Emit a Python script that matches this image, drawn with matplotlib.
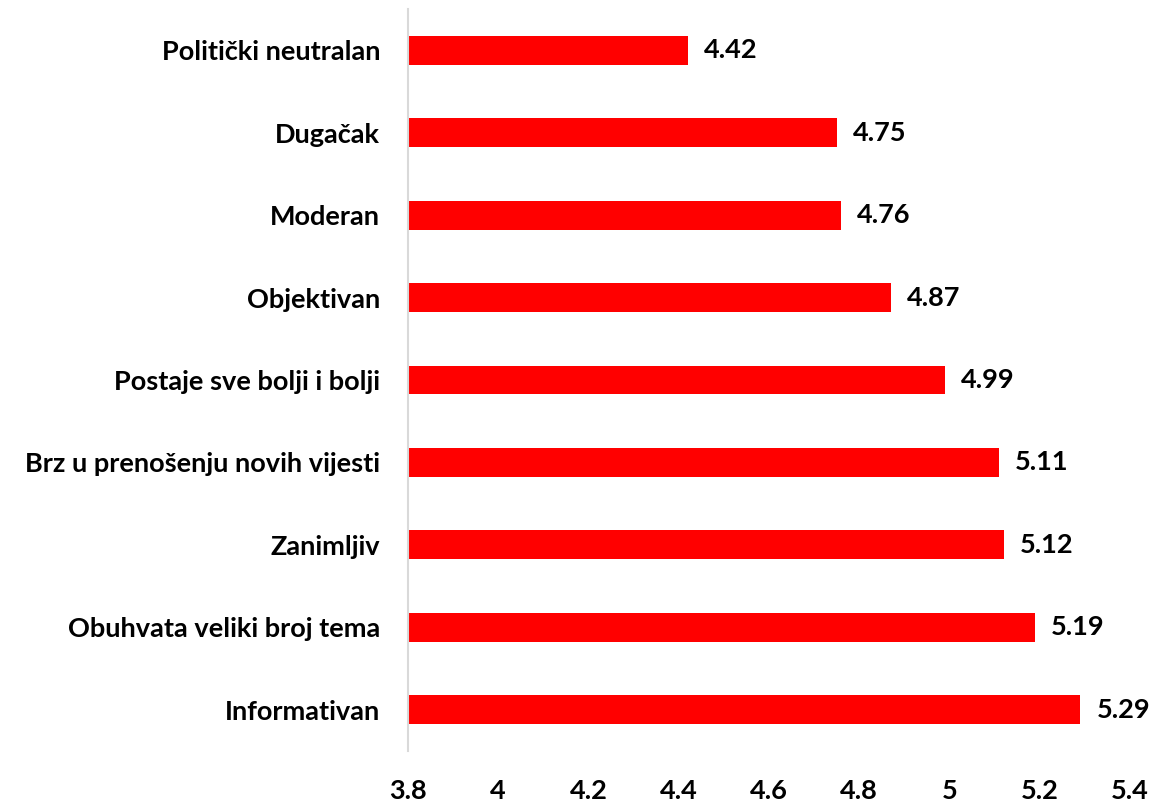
import matplotlib
matplotlib.use("Agg")
import matplotlib.pyplot as plt

categories = [
    "Politički neutralan",
    "Dugačak",
    "Moderan",
    "Objektivan",
    "Postaje sve bolji i bolji",
    "Brz u prenošenju novih vijesti",
    "Zanimljiv",
    "Obuhvata veliki broj tema",
    "Informativan",
]
values = [4.42, 4.75, 4.76, 4.87, 4.99, 5.11, 5.12, 5.19, 5.29]
x_ticks = [3.8, 4.0, 4.2, 4.4, 4.6, 4.8, 5.0, 5.2, 5.4]
x_tick_labels = ["3.8", "4", "4.2", "4.4", "4.6", "4.8", "5", "5.2", "5.4"]

plt.rcParams["font.family"] = ["Lato", "DejaVu Sans"]
plt.rcParams["font.weight"] = "bold"

fig = plt.figure(figsize=(11.76, 8.01), dpi=100)
ax = fig.add_axes([408 / 1176, 50 / 801, (1130 - 408) / 1176, 742 / 801])

y = list(range(len(categories)))
base = x_ticks[0]
ax.barh(y, [v - base for v in values], left=base, height=0.35, color="#FF0000")

# value labels just right of each bar
for yi, v in zip(y, values):
    ax.annotate(f"{v:.2f}", xy=(v, yi), xytext=(16, 0), textcoords="offset pixels",
                va="center", ha="left", fontsize=19.5, fontweight="bold", color="black")

ax.set_xlim(3.8, 5.4)
ax.set_ylim(len(categories) - 0.5, -0.5)
ax.set_yticks(y)
ax.set_yticklabels(categories, fontsize=19.5, fontweight="bold")
ax.set_xticks(x_ticks)
ax.set_xticklabels(x_tick_labels, fontsize=19.5, fontweight="bold")
ax.tick_params(axis="both", length=0)
ax.tick_params(axis="y", pad=20)
ax.tick_params(axis="x", pad=20)

for side in ["top", "right", "bottom"]:
    ax.spines[side].set_visible(False)
ax.spines["left"].set_color("#D9D9D9")
ax.spines["left"].set_linewidth(1.5)

fig.savefig("out.png", dpi=100)
